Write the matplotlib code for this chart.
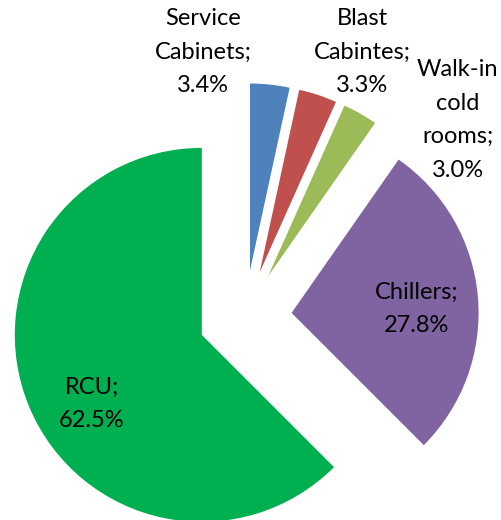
import matplotlib
matplotlib.use("Agg")
import matplotlib.pyplot as plt

# data
categories = ["Service\nCabinets", "Blast\nCabintes", "Walk-in\ncold\nrooms", "Chillers", "RCU"]
shares = [3.4, 3.3, 3.0, 27.8, 62.5]
colors = ["#4F81BD", "#C0504D", "#9BBB59", "#8064A2", "#00B050"]

# where Excel put the data labels (units of pie radius)
label_pos = [(-0.225, 1.417), (0.626, 1.417), (1.138, 1.053), (0.920, 0.043), (-0.818, -0.465)]

plt.rcParams['font.family'] = ['Lato', 'DejaVu Sans']

fig = plt.figure(figsize=(5.01, 5.20), dpi=100)
ax = fig.add_axes([0, 0, 1, 1])

wedges, _ = ax.pie(shares, colors=colors, startangle=90, counterclock=False,
                   explode=[0.25] * len(shares), radius=1.0,
                   wedgeprops=dict(linewidth=0))

for cat, val, pos in zip(categories, shares, label_pos):
    ax.text(pos[0], pos[1], f"{cat};\n{val:.1f}%", ha="center", va="center",
            fontsize=17, color="black", linespacing=1.73)

# 1 radius = 187 px, pie centre at (245, 317) px from top-left
r_px = 187.0
ax.set_xlim(-245 / r_px, (501 - 245) / r_px)
ax.set_ylim(-(520 - 317) / r_px, 317 / r_px)
ax.set_aspect("auto")
ax.axis("off")

fig.savefig("out.png", dpi=100)
